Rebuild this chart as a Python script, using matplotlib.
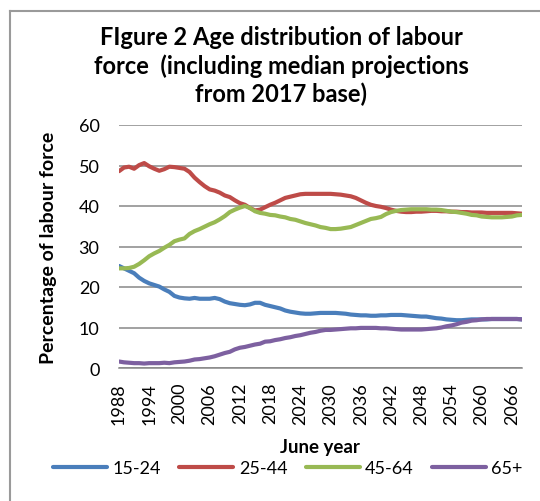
import matplotlib
matplotlib.use("Agg")
import matplotlib.pyplot as plt
from matplotlib.lines import Line2D

plt.rcParams['font.family'] = ['Lato', 'DejaVu Sans']

years = list(range(1988, 2069))

age_15_24 = [25.2, 24.6, 24.0, 23.4, 22.3, 21.5, 20.9, 20.5, 20.1, 19.4, 18.8, 17.8, 17.4,
             17.2, 17.1, 17.3, 17.1, 17.1, 17.1, 17.3, 17.0, 16.4, 16.0, 15.8, 15.6, 15.5,
             15.7, 16.1, 16.1, 15.6, 15.3, 15.0, 14.7, 14.2, 13.9, 13.7, 13.5, 13.4, 13.4,
             13.5, 13.6, 13.6, 13.6, 13.6, 13.5, 13.4, 13.2, 13.1, 13.0, 13.0, 12.9,
             12.9, 13.0, 13.0, 13.1, 13.1, 13.1, 13.0, 12.9, 12.8, 12.7, 12.7, 12.5, 12.3,
             12.2, 12.0, 11.9, 11.8, 11.8, 11.9, 12.0, 12.0, 12.0, 12.0, 12.1, 12.1, 12.1,
             12.1, 12.1, 12.1, 12.0]

age_25_44 = [48.6, 49.5, 49.7, 49.2, 50.1, 50.6, 49.8, 49.2, 48.7, 49.1, 49.7, 49.6, 49.4,
             49.2, 48.4, 47.0, 45.9, 44.9, 44.1, 43.8, 43.3, 42.6, 42.2, 41.4, 40.7, 40.3,
             39.5, 38.9, 39.1, 39.7, 40.3, 40.8, 41.4, 42.0, 42.3, 42.6, 42.9, 43.0, 43.0,
             43.0, 43.0, 43.0, 43.0, 42.9, 42.8, 42.6, 42.4, 42.0, 41.4, 40.8, 40.3,
             40.0, 39.8, 39.5, 39.1, 38.8, 38.6, 38.5, 38.5, 38.6, 38.6, 38.7, 38.8, 38.8,
             38.7, 38.7, 38.6, 38.6, 38.5, 38.5, 38.4, 38.4, 38.4, 38.3, 38.3, 38.3, 38.3,
             38.3, 38.3, 38.2, 38.1]

age_45_64 = [24.6, 24.6, 24.7, 25.0, 25.7, 26.6, 27.6, 28.3, 28.9, 29.7, 30.4, 31.3, 31.7,
             32.0, 33.1, 33.8, 34.3, 34.9, 35.5, 36.0, 36.7, 37.5, 38.5, 39.1, 39.6, 40.0,
             39.5, 38.7, 38.3, 38.1, 37.8, 37.7, 37.4, 37.2, 36.8, 36.6, 36.2, 35.8, 35.5,
             35.2, 34.8, 34.6, 34.3, 34.3, 34.4, 34.6, 34.8, 35.3, 35.8, 36.3, 36.8,
             37.0, 37.3, 38.0, 38.5, 38.8, 39.0, 39.1, 39.2, 39.2, 39.2, 39.2, 39.1, 39.1,
             39.0, 38.8, 38.6, 38.5, 38.3, 38.1, 37.8, 37.7, 37.4, 37.3, 37.2, 37.2, 37.2,
             37.3, 37.4, 37.7, 37.8]

age_65_plus = [1.6, 1.4, 1.3, 1.2, 1.2, 1.1, 1.2, 1.2, 1.2, 1.3, 1.2, 1.4, 1.5,
               1.6, 1.8, 2.1, 2.2, 2.4, 2.6, 2.9, 3.3, 3.7, 4.0, 4.6, 5.0, 5.2,
               5.5, 5.8, 6.0, 6.5, 6.6, 6.9, 7.1, 7.4, 7.6, 7.9, 8.1, 8.4, 8.7,
               8.9, 9.2, 9.4, 9.4, 9.5, 9.6, 9.7, 9.8, 9.8, 9.9, 9.9, 9.9,
               9.9, 9.8, 9.8, 9.7, 9.6, 9.5, 9.5, 9.5, 9.5, 9.5, 9.6, 9.7, 9.8,
               10.0, 10.3, 10.5, 10.8, 11.2, 11.4, 11.7, 11.8, 12.0, 12.1, 12.1, 12.1,
               12.1, 12.1, 12.1, 12.1, 12.0]

labels = ['15-24', '25-44', '45-64', '65+']
colors = ['#4A7EBB', '#BE4B48', '#98B954', '#7D60A0']
tick_years = list(range(1988, 2067, 6))

W, H = 540, 502
fig = plt.figure(figsize=(W / 100, H / 100), dpi=100)
ax = fig.add_axes([119 / W, 1 - 369 / H, (522 - 119) / W, (369 - 126) / H])

for vals, lab, col in zip([age_15_24, age_25_44, age_45_64, age_65_plus], labels, colors):
    ax.plot(years, vals, color=col, lw=3.0, label=lab, solid_capstyle='round')

ax.set_xlim(1988, 2068)
ax.set_ylim(0, 60)
ax.set_yticks(range(0, 61, 10))
ax.set_xticks(tick_years)
ax.set_xticklabels([str(y) for y in tick_years], rotation=90)
ax.yaxis.grid(True, color='#878787', lw=1.1)
ax.set_axisbelow(True)
for s in ['top', 'right', 'left']:
    ax.spines[s].set_visible(False)
ax.spines['bottom'].set_color('#878787')
ax.spines['bottom'].set_linewidth(1.1)
ax.tick_params(axis='both', length=0, labelsize=13)
ax.tick_params(axis='x', pad=10)
ax.tick_params(axis='y', pad=14)

ax.set_ylabel('Percentage of labour force', fontsize=14, fontweight='bold')
ax.yaxis.set_label_coords(-0.154, 0.5)

fig.text(320 / W, 1 - 448 / H, 'June year', ha='center', va='center',
         fontsize=13.5, fontweight='bold')

fig.text(281 / W, 1 - 66 / H,
         'FIgure 2 Age distribution of labour\nforce  (including median projections\nfrom 2017 base)',
         ha='center', va='center', fontsize=17, fontweight='bold', linespacing=1.25)

fig.legend(loc='center', bbox_to_anchor=(288 / W, 1 - 469 / H), ncol=4, frameon=False,
           fontsize=13, handlelength=3.0, handletextpad=0.3, columnspacing=1.0)

# outer chart frame (only left and top edges visible in the crop)
fig.add_artist(Line2D([10 / W, 10 / W], [0, 1 - 12 / H], color='#9a9a9a', lw=1.5))
fig.add_artist(Line2D([10 / W, 1], [1 - 12 / H, 1 - 12 / H], color='#9a9a9a', lw=1.5))

fig.savefig('out.png', dpi=100)
